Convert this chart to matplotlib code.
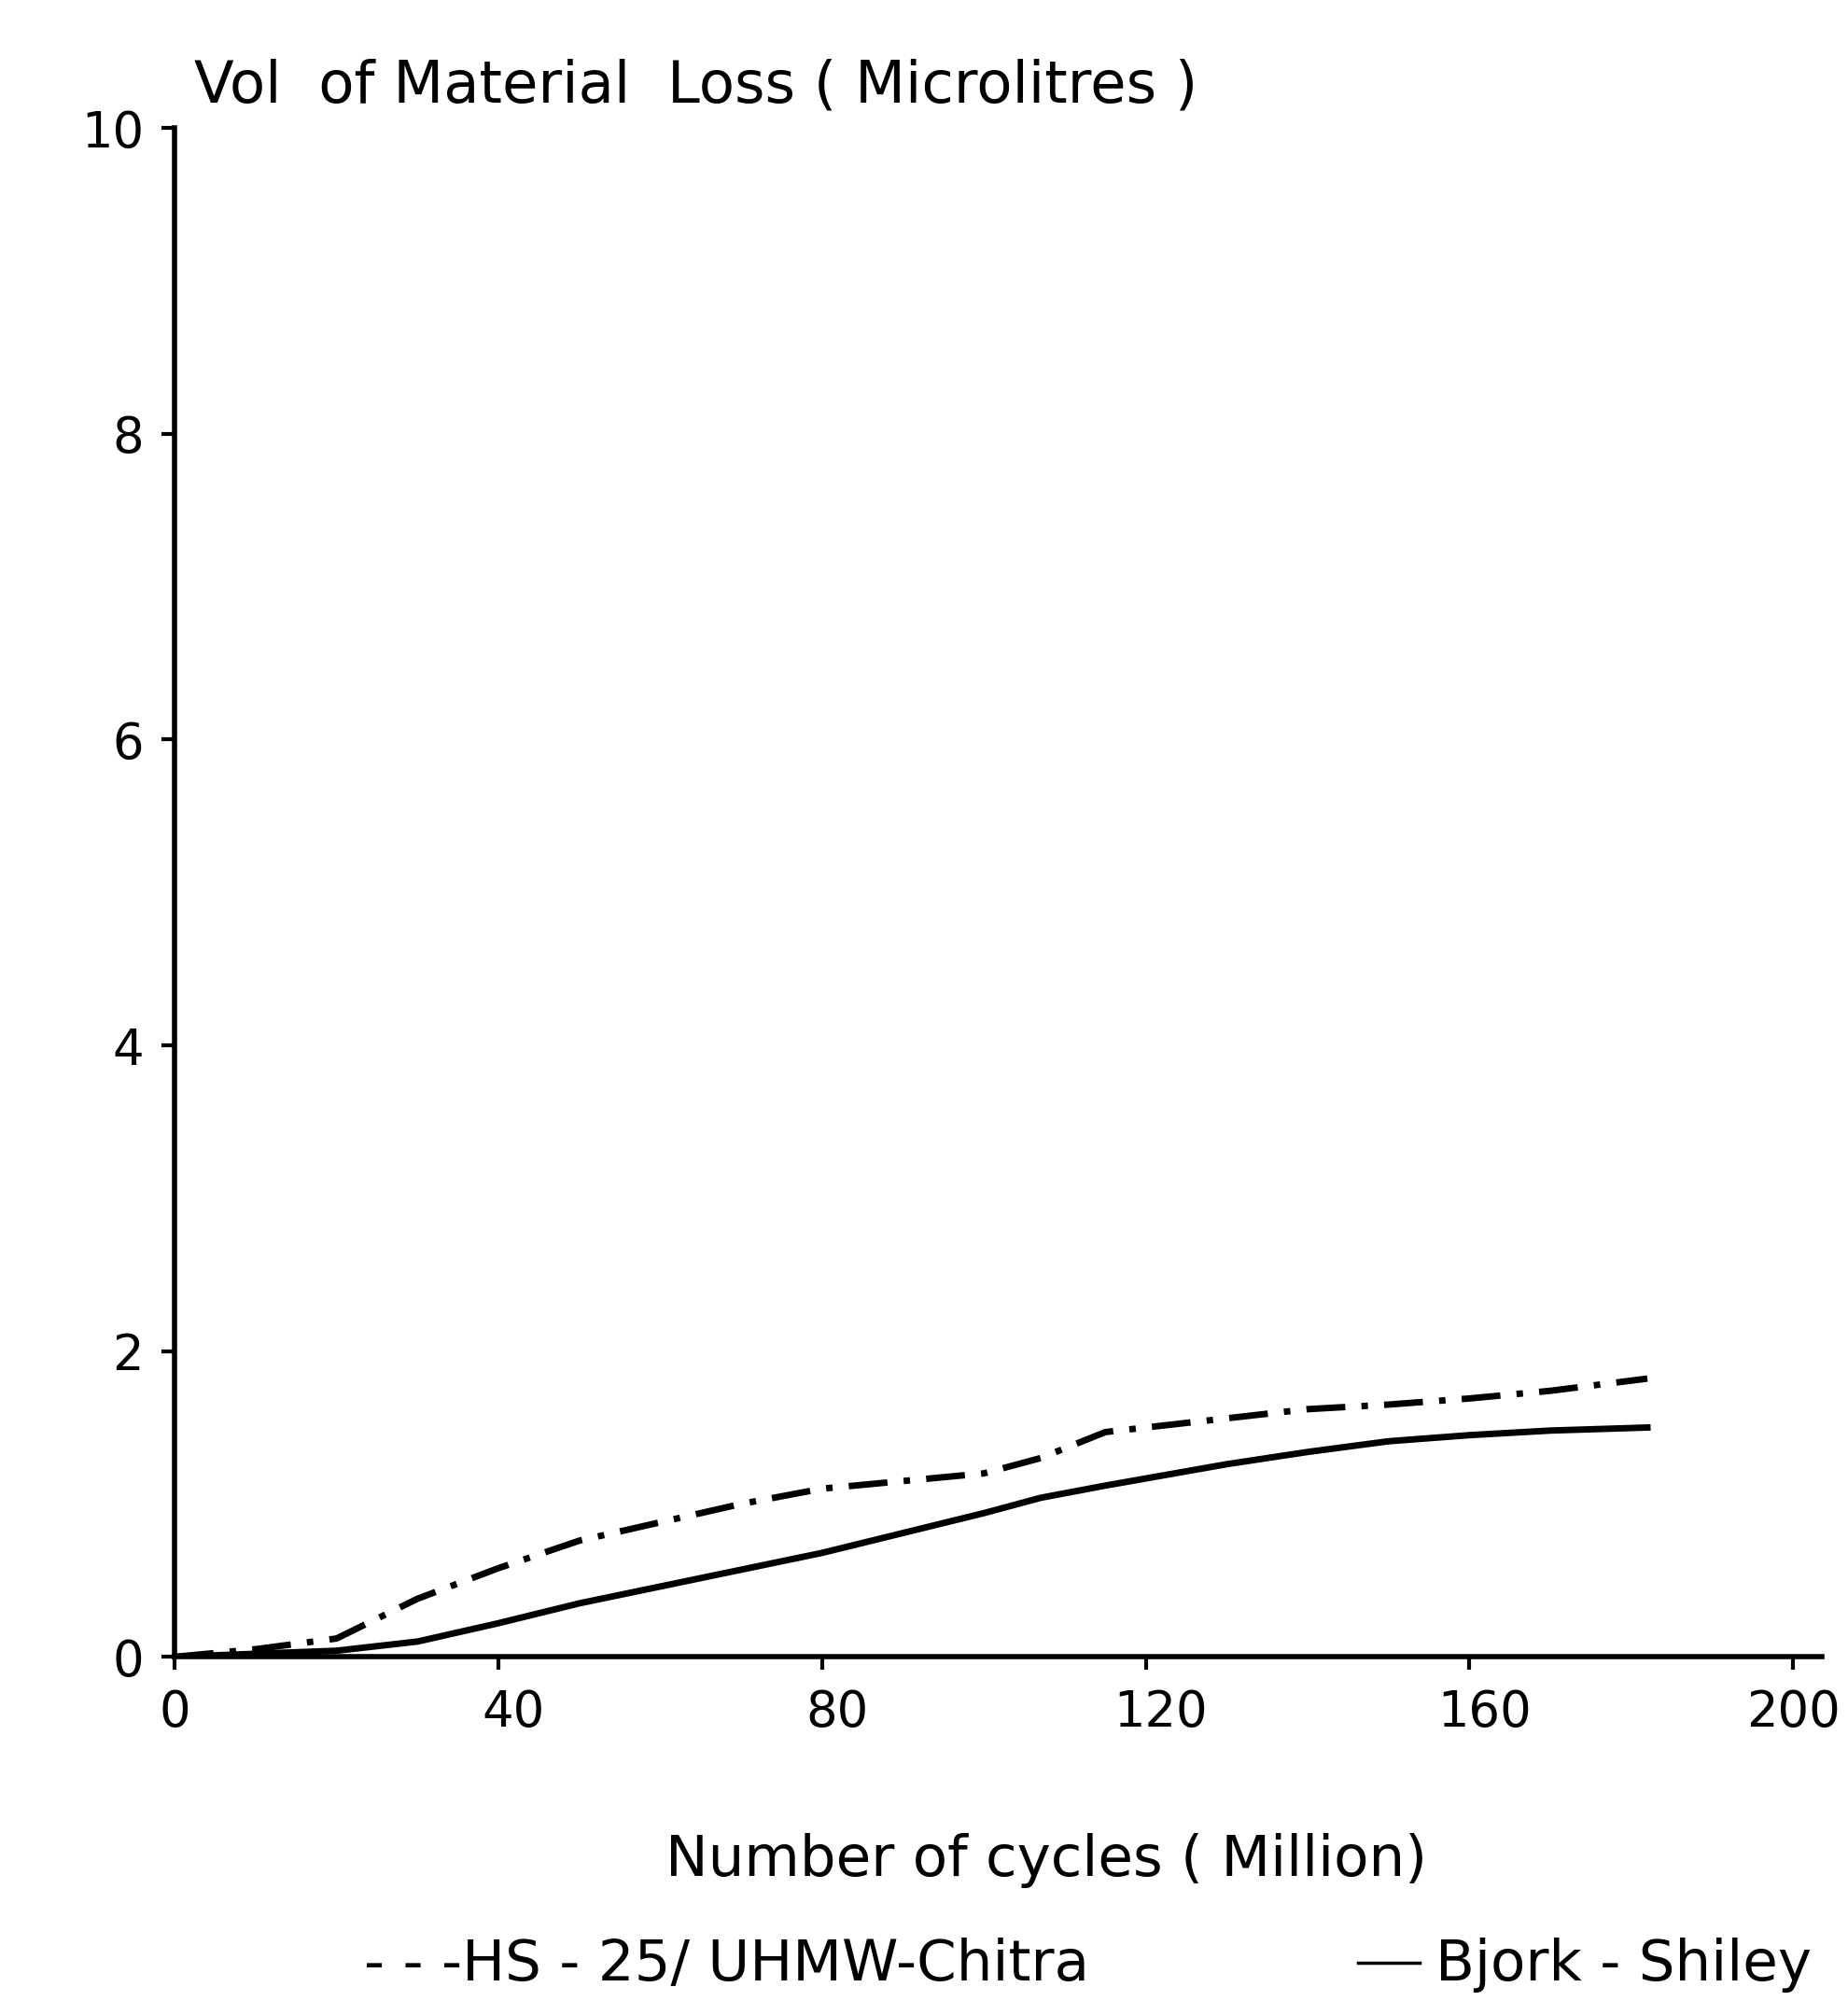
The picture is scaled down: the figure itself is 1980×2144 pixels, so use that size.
import numpy as np
import matplotlib
matplotlib.use('Agg')
import matplotlib.pyplot as plt
from matplotlib.lines import Line2D
from matplotlib.transforms import ScaledTranslation

# ---- data ----
cycles = [0, 10, 20, 30, 40, 50, 60, 70, 80, 90, 100, 107, 115, 130, 140, 150, 160, 170, 182]
chitra = [0, 0.05, 0.12, 0.38, 0.58, 0.76, 0.88, 1.0, 1.1, 1.15, 1.2, 1.3, 1.47, 1.56, 1.62, 1.65, 1.69, 1.74, 1.82]
bjork = [0, 0.02, 0.04, 0.1, 0.22, 0.35, 0.46, 0.57, 0.68, 0.81, 0.94, 1.04, 1.12, 1.26, 1.34, 1.41, 1.45, 1.48, 1.5]

xticks = [0, 40, 80, 120, 160, 200]
yticks = [0, 2, 4, 6, 8, 10]
title_txt = 'Vol  of Material  Loss ( Microlitres )'
xlabel_txt = 'Number of cycles ( Million)'
leg1 = '- - -HS - 25/ UHMW-Chitra'
leg2 = 'Bjork - Shiley'

plt.rcParams['font.family'] = ['DejaVu Sans']

fig = plt.figure(figsize=(19.8, 21.44), dpi=100)
ax = fig.add_axes([0.0946, 0.172, 0.8914, 0.764])

ax.plot(cycles, chitra, color='black', lw=5, linestyle=(0, (6, 2.5, 1, 2.5)))
ax.plot(cycles, bjork, color='black', lw=5)

ax.set_xlim(0, 203.6)
ax.set_ylim(0, 10)
ax.set_xticks(xticks)
ax.set_yticks(yticks)
ax.set_xticklabels([str(v) for v in xticks])
ax.set_yticklabels([str(v) for v in yticks])

for s in ['top', 'right']:
    ax.spines[s].set_visible(False)
for s in ['left', 'bottom']:
    ax.spines[s].set_linewidth(4)

ax.tick_params(axis='both', direction='out', length=10, width=3, labelsize=38, pad=14)
# tick labels sit a little to the right of their ticks in the original
off = ScaledTranslation(0.16, 0, fig.dpi_scale_trans)
for lab in ax.get_xticklabels()[1:-1]:
    lab.set_transform(lab.get_transform() + off)

fig.text(0.105, 0.957, title_txt, fontsize=45, va='center', ha='left')
fig.text(0.566, 0.070, xlabel_txt, fontsize=44, va='center', ha='center')

fig.text(0.197, 0.018, leg1, fontsize=44, va='center', ha='left')
fig.add_artist(Line2D([0.735, 0.768], [0.019, 0.019], color='black', lw=2.5,
                      transform=fig.transFigure))
fig.text(0.777, 0.018, leg2, fontsize=44, va='center', ha='left')

fig.savefig('out.png', dpi=100)
